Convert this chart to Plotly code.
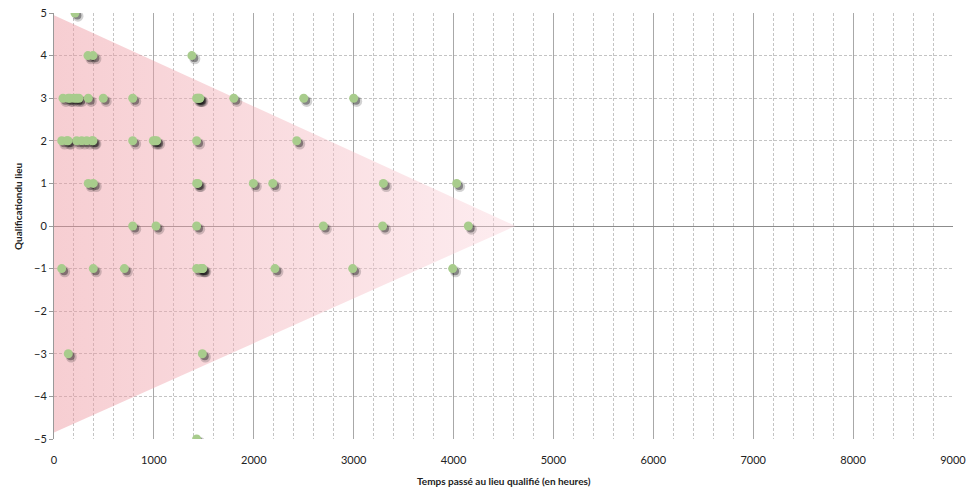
import plotly.graph_objects as go

# Observations: time spent at place (hours) and qualification of place
temps = [210,
         340, 390, 1380,
         90, 143, 160, 200, 227, 250, 343, 493, 788, 1428, 1440, 1450, 1460, 1800, 2500, 3000,
         77, 127, 140, 227, 277, 327, 380, 390, 788, 994, 1010, 1028, 1428, 2430,
         343, 393, 1428, 1440, 1995, 2190, 3297, 4031,
         788, 1021, 1428, 2696, 3290, 4148,
         77, 393, 704, 1428, 1470, 1480, 1490, 2212, 2990, 3991,
         143, 1485,
         1428]
qualifs = [5,
           4, 4, 4,
           3, 3, 3, 3, 3, 3, 3, 3, 3, 3, 3, 3, 3, 3, 3, 3,
           2, 2, 2, 2, 2, 2, 2, 2, 2, 2, 2, 2, 2, 2,
           1, 1, 1, 1, 1, 1, 1, 1,
           0, 0, 0, 0, 0, 0,
           -1, -1, -1, -1, -1, -1, -1, -1, -1, -1,
           -3, -3,
           -5]

# Triangle zone (vertices)
zone_x = [0, 4620, 0, 0]
zone_y = [4.95, 0, -4.85, 4.95]

x_ticks = [0, 1000, 2000, 3000, 4000, 5000, 6000, 7000, 8000, 9000]
y_ticks = [-5, -4, -3, -2, -1, 0, 1, 2, 3, 4, 5]

fig = go.Figure()

fig.add_trace(go.Scatter(
    x=zone_x, y=zone_y, mode="lines", fill="toself",
    line=dict(width=0),
    fillgradient=dict(type="horizontal",
                      colorscale=[[0, "rgba(236,146,155,0.45)"],
                                  [1, "rgba(251,214,221,0.45)"]]),
    hoverinfo="skip", showlegend=False))

# shadow layers
fig.add_trace(go.Scatter(
    x=[t + 30 for t in temps], y=[q - 0.075 for q in qualifs], mode="markers",
    marker=dict(size=11, color="rgba(30,30,30,0.2)", line=dict(width=0)),
    hoverinfo="skip", showlegend=False))
fig.add_trace(go.Scatter(
    x=[t + 24 for t in temps], y=[q - 0.06 for q in qualifs], mode="markers",
    marker=dict(size=8, color="rgba(20,20,20,0.4)", line=dict(width=0)),
    hoverinfo="skip", showlegend=False))

fig.add_trace(go.Scatter(
    x=temps, y=qualifs, mode="markers",
    marker=dict(size=9, color="#a8cc8c", line=dict(width=0)),
    showlegend=False))

fig.update_layout(
    width=970, height=491,
    margin=dict(l=54, r=17, t=13, b=52),
    paper_bgcolor="white", plot_bgcolor="white",
    font=dict(family="Lato, Open Sans, sans-serif", size=11, color="#222"),
    xaxis=dict(
        range=[0, 9000], tickvals=x_ticks, ticks="", automargin=False,
        ticklabelstandoff=13,
        showgrid=True, gridcolor="#a8a8a8", gridwidth=1,
        minor=dict(dtick=200, showgrid=True, gridcolor="#c4c4c4",
                   griddash="3px,2px", gridwidth=1),
        zeroline=False, showline=False,
        tickfont=dict(size=11, color="#222"),
    ),
    yaxis=dict(
        range=[-5, 5], tickvals=y_ticks, ticks="outside", ticklen=4,
        tickcolor="#999", automargin=False,
        showgrid=True, gridcolor="#c4c4c4", griddash="3px,2px", gridwidth=1,
        zeroline=True, zerolinecolor="#8c8c8c", zerolinewidth=1,
        showline=True, linecolor="#999", linewidth=1,
        tickfont=dict(size=11, color="#222"),
    ),
    annotations=[
        dict(text="<b>Temps passé au lieu qualifié (en heures)</b>",
             xref="paper", yref="paper", x=0.5, y=0, yshift=-42,
             showarrow=False, xanchor="center", yanchor="middle",
             font=dict(size=10, color="#222")),
        dict(text="<b>Qualificationdu lieu</b>",
             xref="paper", yref="paper", x=0, xshift=-36, y=0.5, yshift=20,
             showarrow=False, textangle=-90, xanchor="center", yanchor="middle",
             font=dict(size=10, color="#222")),
    ],
)

fig.write_html("out.html", config={"displayModeBar": False},
               post_script="document.body.style.margin='0px';document.body.style.overflow='hidden';")
